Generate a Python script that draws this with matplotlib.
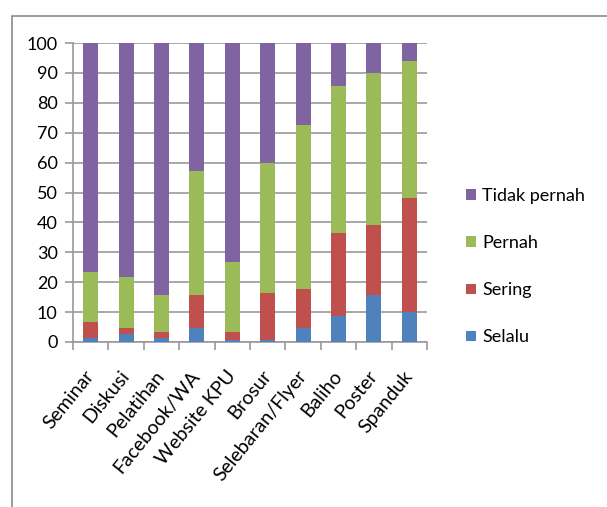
import numpy as np
import matplotlib.pyplot as plt
import matplotlib.transforms as mtransforms
from matplotlib.patches import Rectangle

categories = ['Seminar', 'Diskusi', 'Pelatihan', 'Facebook/WA', 'Website KPU',
              'Brosur', 'Selebaran/Flyer', 'Baliho', 'Poster', 'Spanduk']
selalu = [1.5, 2.8, 1.5, 4.8, 0.8, 0.8, 4.7, 8.7, 15.7, 9.9]
sering = [5.2, 2.0, 1.9, 10.9, 2.6, 15.5, 13.0, 27.8, 23.4, 38.3]
pernah = [16.8, 16.8, 12.3, 41.4, 23.3, 43.4, 55.0, 49.2, 51.0, 45.9]
tidak_pernah = [100 - a - b - c for a, b, c in zip(selalu, sering, pernah)]

series = [('Selalu', selalu, '#4F81BD'),
          ('Sering', sering, '#C0504D'),
          ('Pernah', pernah, '#9BBB59'),
          ('Tidak pernah', tidak_pernah, '#8064A2')]

plt.rcParams['font.family'] = ['Lato', 'DejaVu Sans']
fig = plt.figure(figsize=(6.07, 5.07), dpi=100)
ax = fig.add_axes([73 / 607, 1 - 342 / 507, 354 / 607, 299 / 507])

# outer chart frame (right and bottom edges are cut off in the original)
fig.patches.append(Rectangle((12 / 607, -0.1), 1.2, 1 - 16 / 507 + 0.1,
                             transform=fig.transFigure, fill=False,
                             edgecolor='#8a8a8a', linewidth=1.2))

x = np.arange(len(categories))
bottom = np.zeros(len(categories))
handles = []
for name, vals, color in series:
    h = ax.bar(x, vals, width=0.42, bottom=bottom, color=color, label=name, zorder=3)
    handles.append(h)
    bottom += np.array(vals)

ax.set_xlim(-0.5, len(categories) - 0.5)
ax.set_ylim(0, 100)
ax.set_yticks(range(0, 101, 10))
ax.yaxis.grid(True, color='#9a9a9a', linewidth=1.2, zorder=0)
ax.set_xticks(x)
ax.set_xticklabels(categories, rotation=51, ha='right', va='center',
                   rotation_mode='anchor', fontsize=14)
# nudge category labels a little to the right, like the original
offset = mtransforms.ScaledTranslation(7 / 100, 0, fig.dpi_scale_trans)
for lbl in ax.get_xticklabels():
    lbl.set_transform(lbl.get_transform() + offset)
ax.set_xticks(np.arange(-0.5, len(categories)), minor=True)
ax.tick_params(axis='x', which='major', length=0, pad=22)
ax.tick_params(axis='x', which='minor', length=6, color='#9a9a9a', width=1.2)
ax.tick_params(axis='y', length=6, color='#9a9a9a', width=1.2, labelsize=13, pad=5)
for side in ['top', 'right']:
    ax.spines[side].set_visible(False)
for side in ['left', 'bottom']:
    ax.spines[side].set_color('#9a9a9a')
    ax.spines[side].set_linewidth(1.2)

leg = fig.legend(handles[::-1], [s[0] for s in series][::-1],
                 loc='upper left', bbox_to_anchor=(450 / 607, 1 - 172 / 507),
                 frameon=False, fontsize=13, handlelength=0.55, handleheight=0.55,
                 handletextpad=0.35, labelspacing=1.72)

fig.savefig('out.png', dpi=100)
